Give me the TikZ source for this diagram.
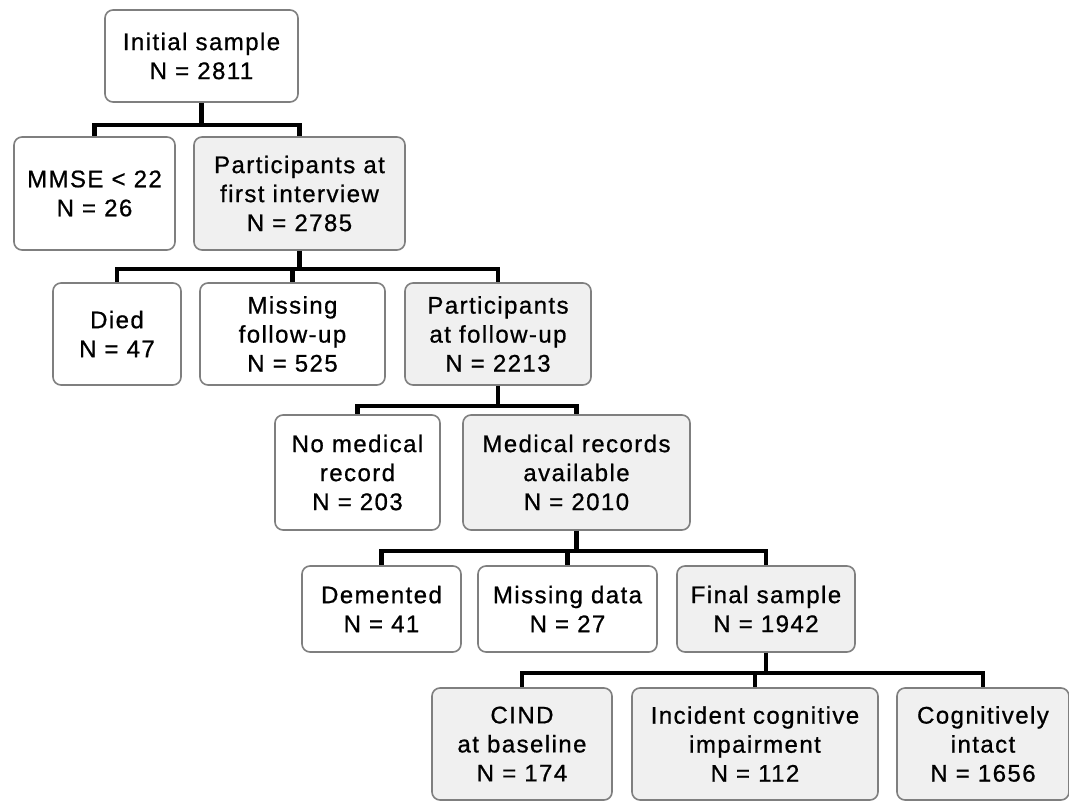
\documentclass[tikz,border=0pt]{standalone}
\usepackage{fontspec}
\setmainfont{Liberation Sans}[LetterSpace=6, FakeBold=0.8]
\definecolor{boxgray}{HTML}{7F7F7F}
\definecolor{keepfill}{HTML}{F0F0F0}
\begin{document}
\begin{tikzpicture}[x=1pt, y=-1pt,
  box/.style={draw=boxgray, line width=1.6pt, rounded corners=8pt, fill=white,
    align=center, inner sep=0pt, font=\fontsize{24}{29}\selectfont},
  keep/.style={box, fill=keepfill},
  link/.style={line width=4.5pt, line join=miter}]

  \useasboundingbox (0,0) rectangle (1069,801);

  % first split
  \node[box, minimum width=193, minimum height=92] (init) at (201.5,56) {Initial sample\\N = 2811};
  \node[box, minimum width=161, minimum height=113] (mmse) at (94.5,193.5) {MMSE < 22\\N = 26};
  \node[keep, minimum width=211, minimum height=113] (first) at (299.5,193.5) {Participants at\\first interview\\N = 2785};

  % follow-up
  \node[box, minimum width=128, minimum height=102] (died) at (117,334) {Died\\N = 47};
  \node[box, minimum width=185, minimum height=102] (missfu) at (292.5,334) {Missing\\follow-up\\N = 525};
  \node[keep, minimum width=186, minimum height=102] (fu) at (498,334) {Participants\\at follow-up\\N = 2213};

  % medical records
  \node[box, minimum width=165, minimum height=115] (nomed) at (357.5,472.5) {No medical\\record\\N = 203};
  \node[keep, minimum width=227, minimum height=115] (med) at (576.5,472.5) {Medical records\\available\\N = 2010};

  % exclusions
  \node[box, minimum width=159, minimum height=86] (dem) at (381.5,609) {Demented\\N = 41};
  \node[box, minimum width=179, minimum height=86] (missdat) at (567.5,609) {Missing data\\N = 27};
  \node[keep, minimum width=178, minimum height=86] (final) at (766,609) {Final sample\\N = 1942};

  % outcome groups
  \node[keep, minimum width=180, minimum height=112] (cind) at (522,744) {CIND\\at baseline\\N = 174};
  \node[keep, minimum width=246, minimum height=112] (incid) at (755,744) {Incident cognitive\\impairment\\N = 112};
  \node[keep, minimum width=172, minimum height=112] (intact) at (983,744) {Cognitively\\intact\\N = 1656};

  % brackets
  \foreach \c in {mmse,first}
    \draw[link] (init.south) -- ++(0,22) -| (\c.north);
  \foreach \c in {died,missfu,fu}
    \draw[link] (first.south) -- ++(0,18) -| (\c.north);
  \foreach \c in {nomed,med}
    \draw[link] (fu.south) -- ++(0,20) -| (\c.north);
  \foreach \c in {dem,missdat,final}
    \draw[link] (med.south) -- ++(0,20) -| (\c.north);
  \foreach \c in {cind,incid,intact}
    \draw[link] (final.south) -- ++(0,20) -| (\c.north);

\end{tikzpicture}
\end{document}
